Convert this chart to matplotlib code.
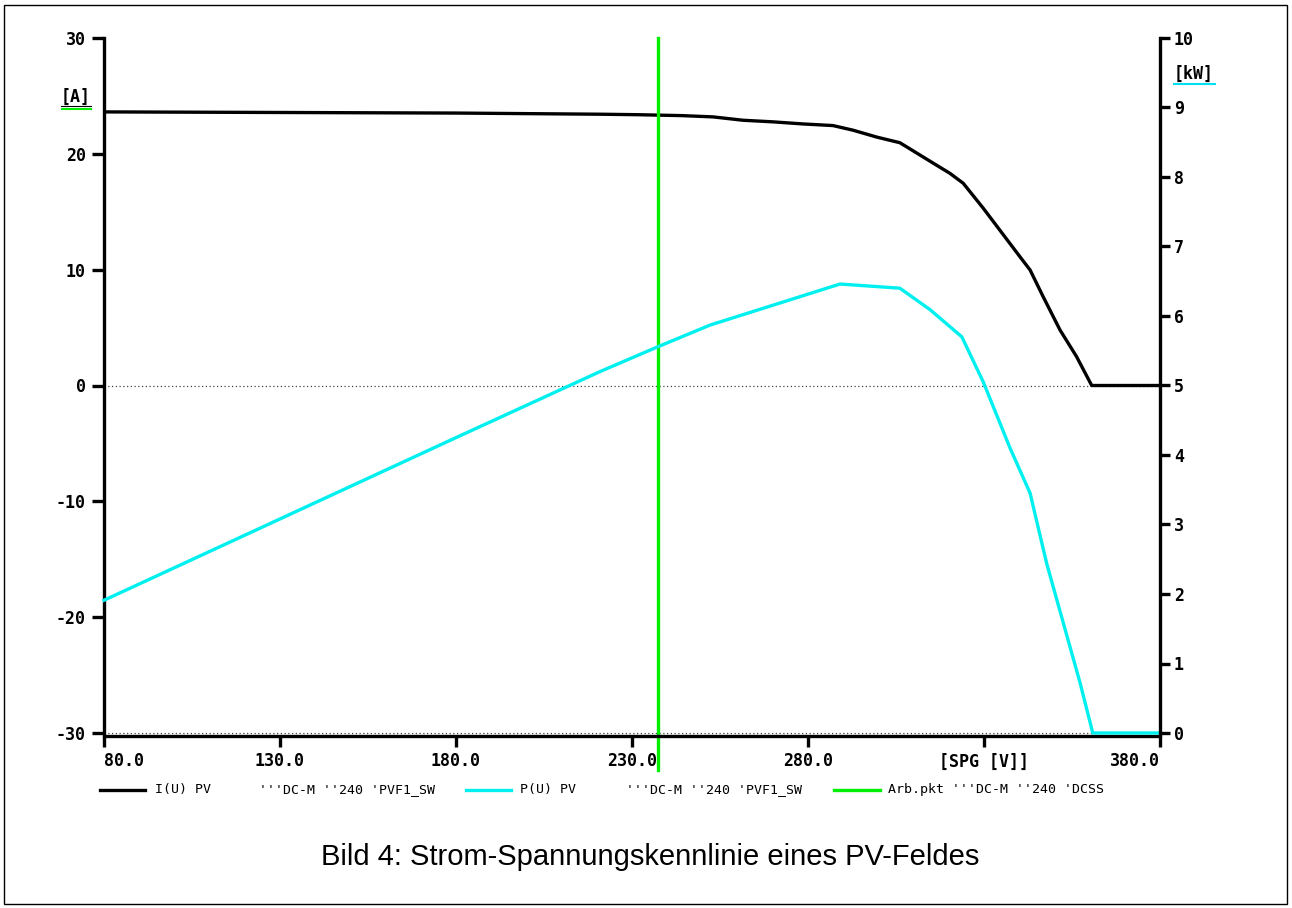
import matplotlib
matplotlib.use("Agg")
import matplotlib.pyplot as plt
from matplotlib.patches import Rectangle
from matplotlib.lines import Line2D

# ---- data ----
u_current = [80, 130, 180, 220.9, 231.3, 244.1, 253.0, 261.5, 270.1, 278.6, 287.1, 292.8,
             299.6, 306.1, 315.6, 320.3, 324.1, 329.8, 340.2, 343.1, 346.8, 351.6, 356.3,
             360.6, 380]
i_current = [23.62, 23.57, 23.52, 23.42, 23.38, 23.30, 23.19, 22.90, 22.76, 22.58, 22.44, 22.04,
             21.44, 20.96, 19.19, 18.32, 17.46, 15.30, 11.12, 9.97, 7.67, 4.79, 2.49,
             0.0, 0.0]

u_power = [80, 130, 180, 220.9, 237.0, 252.2, 289.1, 306.1, 314.7, 323.7, 329.8, 337.4,
           343.1, 347.8, 357.3, 360.9, 380]
p_power = [1.91, 3.08, 4.25, 5.20, 5.55, 5.87, 6.46, 6.40, 6.09, 5.70, 5.05, 4.10,
           3.45, 2.44, 0.72, 0.0, 0.0]

u_work = 237.3

x_ticks = [80, 130, 180, 230, 280, 330, 380]
x_tick_labels = ["80.0", "130.0", "180.0", "230.0", "280.0", "[SPG [V]]", "380.0"]
y_left_ticks = [-30, -20, -10, 0, 10, 20, 30]
y_right_ticks = list(range(0, 11))

legend_labels = ["I(U) PV", "'''DC-M ''240 'PVF1_SW", "P(U) PV",
                 "'''DC-M ''240 'PVF1_SW", "Arb.pkt '''DC-M ''240 'DCSS"]
caption = "Bild 4: Strom-Spannungskennlinie eines PV-Feldes"

mono = "DejaVu Sans Mono"
tick_fs = 12
tick_fw = 'semibold'
GREEN = '#00ee00'
CYAN = '#00f0f0'
W, H = 1292, 908
fig = plt.figure(figsize=(W / 100, H / 100), dpi=100)
L, R, T, B = 104, 1160, 38, 733
ax = fig.add_axes([L / W, 1 - B / H, (R - L) / W, (B - T) / H])
ax2 = ax.twinx()

ax.set_xlim(80, 380)
ax.set_ylim(-30, 30)
ax2.set_ylim(0, 10)

for a in (ax, ax2):
    a.spines['top'].set_visible(False)
    for s in ('left', 'right', 'bottom'):
        a.spines[s].set_linewidth(2.4)
ax.spines['right'].set_visible(False)
ax2.spines['left'].set_visible(False)
ax2.spines['bottom'].set_visible(False)
ax.spines['bottom'].set_position(('outward', 2))

ax.axhline(0, color='#444444', lw=0.9, ls=(0, (1, 2)))
ax.axhline(-30, color='#444444', lw=0.9, ls=(0, (1, 2)), clip_on=False)

ax.plot(u_current, i_current, color='black', lw=2.4, solid_joinstyle='round')
ax2.plot(u_power, p_power, color=CYAN, lw=2.4, clip_on=False, solid_joinstyle='round')
ax.axvline(u_work, ymin=-0.053, ymax=1, color=GREEN, lw=2.4, clip_on=False)

ax.set_xticks(x_ticks)
ax.set_xticklabels(x_tick_labels, fontfamily=mono, fontsize=tick_fs, fontweight=tick_fw)
lbls = ax.get_xticklabels()
lbls[0].set_ha('left')
lbls[-1].set_ha('right')
ax.tick_params(axis='x', direction='out', length=8, width=2.4, pad=4)

ax.set_yticks(y_left_ticks)
ax.set_yticklabels([str(v) for v in y_left_ticks], fontfamily=mono, fontsize=tick_fs,
                   fontweight=tick_fw)
ax.tick_params(axis='y', direction='out', length=9, width=2.4, pad=4)

ax2.set_yticks(y_right_ticks)
ax2.set_yticklabels([str(v) for v in y_right_ticks], fontfamily=mono, fontsize=tick_fs,
                    fontweight=tick_fw)
ax2.tick_params(axis='y', direction='out', length=7, width=2.4, pad=3)

# unit labels
fig.text(76 / W, 1 - 97 / H, "[A]", fontfamily=mono, fontsize=tick_fs, fontweight=tick_fw,
         ha='center', va='center')
fig.add_artist(Line2D([62 / W, 91 / W], [1 - 109 / H] * 2, color=GREEN, lw=1.5))
fig.add_artist(Line2D([61 / W, 91 / W], [1 - 106 / H] * 2, color='black', lw=0.8))
fig.text(1194 / W, 1 - 74 / H, "[kW]", fontfamily=mono, fontsize=tick_fs, fontweight=tick_fw,
         ha='center', va='center')
fig.add_artist(Line2D([1174 / W, 1215 / W], [1 - 84 / H] * 2, color='#00e0f0', lw=1.5))

# legend
ly = 1 - 790 / H
fs_leg = 9.5
fig.add_artist(Line2D([100 / W, 145 / W], [ly, ly], color='black', lw=2.4))
fig.text(155 / W, ly, legend_labels[0], fontfamily=mono, fontsize=fs_leg, va='center')
fig.text(259 / W, ly, legend_labels[1], fontfamily=mono, fontsize=fs_leg, va='center')
fig.add_artist(Line2D([466 / W, 511 / W], [ly, ly], color=CYAN, lw=2.4))
fig.text(520 / W, ly, legend_labels[2], fontfamily=mono, fontsize=fs_leg, va='center')
fig.text(626 / W, ly, legend_labels[3], fontfamily=mono, fontsize=fs_leg, va='center')
fig.add_artist(Line2D([834 / W, 880 / W], [ly, ly], color=GREEN, lw=2.4))
fig.text(888 / W, ly, legend_labels[4], fontfamily=mono, fontsize=fs_leg, va='center')

fig.text(650 / W, 1 - 857 / H, caption, fontfamily='Liberation Sans', fontsize=21,
         ha='center', va='center')

fig.add_artist(Rectangle((4 / W, 4 / H), (W - 9) / W, (H - 9) / H, transform=fig.transFigure,
                         fill=False, edgecolor='black', lw=1.0))

fig.savefig("out.png", dpi=100)
